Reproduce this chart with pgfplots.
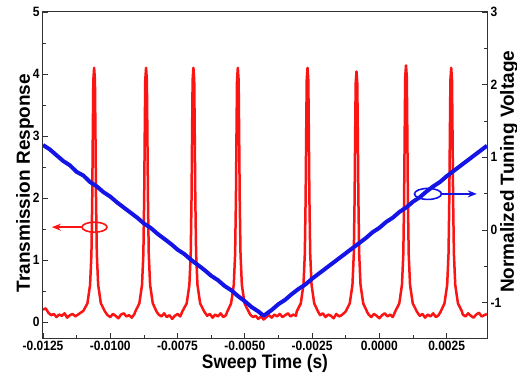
\documentclass[border=0pt]{standalone}
\usepackage{fontspec}
\setmainfont{Liberation Sans}[FakeStretch=0.89]
\newfontfamily\vfont{Liberation Sans}
\usepackage{pgfplots}
\pgfplotsset{compat=1.18}
\usetikzlibrary{arrows.meta}
\definecolor{cred}{RGB}{250,20,20}
\definecolor{cblue}{RGB}{20,20,230}
\definecolor{caxis}{RGB}{50,50,50}

\pgfplotstableread{
x y
-0.01250 0.20
-0.01240 0.22
-0.01230 0.15
-0.01220 0.11
-0.01210 0.13
-0.01200 0.08
-0.01190 0.12
-0.01180 0.10
-0.01170 0.14
-0.01160 0.07
-0.01150 0.11
-0.01140 0.13
-0.01130 0.09
-0.01120 0.12
-0.01110 0.15
-0.01100 0.18
-0.01085 0.30
-0.01075 0.60
-0.01070 1.10
-0.01067 2.00
-0.01065 3.00
-0.01063 3.90
-0.01060 4.10
-0.01057 3.90
-0.01055 3.00
-0.01053 2.00
-0.01050 1.10
-0.01045 0.60
-0.01035 0.30
-0.01020 0.17
-0.01010 0.11
-0.01000 0.08
-0.00990 0.13
-0.00980 0.10
-0.00970 0.06
-0.00960 0.12
-0.00950 0.14
-0.00940 0.09
-0.00930 0.11
-0.00920 0.07
-0.00910 0.13
-0.00907 0.17
-0.00892 0.30
-0.00882 0.60
-0.00877 1.10
-0.00874 2.00
-0.00872 3.00
-0.00870 3.90
-0.00867 4.10
-0.00864 3.90
-0.00862 3.00
-0.00860 2.00
-0.00857 1.10
-0.00852 0.60
-0.00842 0.30
-0.00827 0.16
-0.00820 0.12
-0.00810 0.09
-0.00800 0.14
-0.00790 0.08
-0.00780 0.11
-0.00770 0.05
-0.00760 0.10
-0.00750 0.13
-0.00740 0.09
-0.00731 0.18
-0.00716 0.30
-0.00706 0.60
-0.00701 1.10
-0.00698 2.00
-0.00696 3.00
-0.00694 3.90
-0.00691 4.10
-0.00688 3.90
-0.00686 3.00
-0.00684 2.00
-0.00681 1.10
-0.00676 0.60
-0.00666 0.30
-0.00651 0.17
-0.00640 0.10
-0.00630 0.13
-0.00620 0.07
-0.00610 0.12
-0.00600 0.09
-0.00590 0.14
-0.00580 0.08
-0.00570 0.11
-0.00566 0.16
-0.00551 0.30
-0.00541 0.60
-0.00536 1.10
-0.00533 2.00
-0.00531 3.00
-0.00529 3.90
-0.00526 4.10
-0.00523 3.90
-0.00521 3.00
-0.00519 2.00
-0.00516 1.10
-0.00511 0.60
-0.00501 0.30
-0.00486 0.17
-0.00480 0.12
-0.00470 0.08
-0.00460 0.10
-0.00450 0.05
-0.00440 0.09
-0.00430 0.04
-0.00420 0.08
-0.00410 0.11
-0.00400 0.07
-0.00390 0.12
-0.00380 0.09
-0.00370 0.13
-0.00360 0.08
-0.00350 0.11
-0.00340 0.14
-0.00330 0.09
-0.00320 0.12
-0.00310 0.10
-0.00307 0.17
-0.00292 0.30
-0.00282 0.60
-0.00277 1.10
-0.00274 2.00
-0.00272 3.00
-0.00270 3.90
-0.00267 4.10
-0.00264 3.90
-0.00262 3.00
-0.00260 2.00
-0.00257 1.10
-0.00252 0.60
-0.00242 0.30
-0.00227 0.16
-0.00220 0.11
-0.00210 0.14
-0.00200 0.08
-0.00190 0.12
-0.00180 0.10
-0.00170 0.06
-0.00160 0.13
-0.00150 0.09
-0.00140 0.11
-0.00130 0.15
-0.00125 0.17
-0.00110 0.30
-0.00100 0.60
-0.00095 1.10
-0.00092 2.00
-0.00090 3.00
-0.00088 3.85
-0.00085 4.04
-0.00082 3.85
-0.00080 3.00
-0.00078 2.00
-0.00075 1.10
-0.00070 0.60
-0.00060 0.30
-0.00045 0.16
-0.00040 0.12
-0.00030 0.08
-0.00020 0.13
-0.00010 0.10
0.00000 0.06
0.00010 0.11
0.00020 0.14
0.00030 0.09
0.00040 0.12
0.00050 0.08
0.00059 0.17
0.00074 0.30
0.00084 0.60
0.00089 1.10
0.00092 2.00
0.00094 3.00
0.00096 3.95
0.00099 4.14
0.00102 3.95
0.00104 3.00
0.00106 2.00
0.00109 1.10
0.00114 0.60
0.00124 0.30
0.00139 0.17
0.00150 0.10
0.00160 0.13
0.00170 0.07
0.00180 0.12
0.00190 0.09
0.00200 0.14
0.00210 0.08
0.00220 0.11
0.00227 0.16
0.00242 0.30
0.00252 0.60
0.00257 1.10
0.00260 2.00
0.00262 3.00
0.00264 3.90
0.00267 4.10
0.00270 3.90
0.00272 3.00
0.00274 2.00
0.00277 1.10
0.00282 0.60
0.00292 0.30
0.00307 0.17
0.00310 0.12
0.00320 0.09
0.00330 0.14
0.00340 0.10
0.00350 0.07
0.00360 0.12
0.00370 0.15
0.00380 0.09
0.00390 0.11
0.00400 0.13
}\transdata

\pgfplotstableread{
x v
-0.01250 1.17
-0.01225 1.11
-0.01200 1.03
-0.01175 0.95
-0.01150 0.89
-0.01125 0.80
-0.01100 0.75
-0.01075 0.66
-0.01050 0.60
-0.01025 0.52
-0.01000 0.46
-0.00975 0.38
-0.00950 0.31
-0.00925 0.24
-0.00900 0.17
-0.00875 0.09
-0.00850 0.03
-0.00825 -0.05
-0.00800 -0.12
-0.00775 -0.19
-0.00750 -0.27
-0.00725 -0.33
-0.00700 -0.41
-0.00675 -0.48
-0.00650 -0.55
-0.00625 -0.63
-0.00600 -0.69
-0.00575 -0.77
-0.00550 -0.83
-0.00525 -0.91
-0.00500 -0.98
-0.00475 -1.06
-0.00450 -1.12
-0.00430 -1.18
-0.00400 -1.10
-0.00375 -1.02
-0.00350 -0.96
-0.00325 -0.88
-0.00300 -0.81
-0.00275 -0.75
-0.00250 -0.67
-0.00225 -0.60
-0.00200 -0.53
-0.00175 -0.46
-0.00150 -0.39
-0.00125 -0.32
-0.00100 -0.25
-0.00075 -0.18
-0.00050 -0.11
-0.00025 -0.03
0.00000 0.03
0.00025 0.11
0.00050 0.17
0.00075 0.25
0.00100 0.31
0.00125 0.39
0.00150 0.45
0.00175 0.53
0.00200 0.60
0.00225 0.66
0.00250 0.74
0.00275 0.81
0.00300 0.88
0.00325 0.95
0.00350 1.02
0.00375 1.09
0.00400 1.16
}\voltdata

\begin{document}
\begin{tikzpicture}
\pgfplotsset{
  base/.style={
    scale only axis, width=444pt, height=326pt,
    xmin=-0.0125, xmax=0.004,
    axis line style={line width=1pt, caxis},
    every tick/.style={line width=0.8pt, caxis},
    major tick length=5pt, minor tick length=3pt, tick align=inside,
    tick label style={font=\bfseries\fontsize{13.5}{14}\selectfont},
    /pgf/number format/assume math mode=true,
    yticklabel={\bfseries\pgfmathprintnumber[assume math mode=true]{\tick}},
    label style={font=\bfseries\fontsize{19}{20}\selectfont},
  }
}
\begin{axis}[base, name=ax1,
  ymin=-0.258, ymax=5, ytick={0,1,2,3,4,5}, minor y tick num=1,
  xtick={-0.0125,-0.01,-0.0075,-0.005,-0.0025,0,0.0025}, minor x tick num=1,
  scaled x ticks=false,
  xticklabel={\bfseries\pgfmathprintnumber[assume math mode=true,fixed,fixed zerofill,precision=4]{\tick}},
  xtick pos=bottom, ytick pos=left,
  xlabel={Sweep Time (s)},
  xlabel style={at={(axis description cs:0.5,-0.095)}, anchor=base, font=\bfseries\fontsize{19.5}{20}\selectfont},
  ylabel={\vfont Transmission Response},
  ylabel style={at={(axis description cs:-0.0405,0.475)}, anchor=center},
]
\addplot[cred, line width=2.5pt, line join=round] table[x=x, y=y] {\transdata};
\end{axis}
\begin{axis}[base,
  ymin=-1.486, ymax=3, ytick={-1,0,1,2,3}, minor y tick num=1,
  axis x line=none, axis y line*=right,
  ylabel={\vfont Normalized Tuning Voltage},
  ylabel style={at={(axis description cs:1.0495,0.51)}, anchor=center},
]
\addplot[cblue, line width=4pt, line join=round] table[x=x, y=v] {\voltdata};
\draw[cred, line width=1.6pt] (axis description cs:0.116,0.340) ellipse [x radius=12.5pt, y radius=5pt];
\draw[cred, line width=1.6pt, -{Stealth[length=9pt,width=7pt]}] (axis description cs:0.0878,0.340) -- (axis description cs:0.020,0.340);
\draw[cblue, line width=1.6pt] (axis description cs:0.867,0.442) ellipse [x radius=13.5pt, y radius=5.5pt];
\draw[cblue, line width=1.6pt, -{Stealth[length=9pt,width=7pt]}] (axis description cs:0.8975,0.442) -- (axis description cs:0.977,0.442);
\end{axis}
\pgfresetboundingbox
\path[use as bounding box] ([shift={(-43pt,-35pt)}]ax1.south west) rectangle ([shift={(30pt,12pt)}]ax1.north east);
\end{tikzpicture}
\end{document}
